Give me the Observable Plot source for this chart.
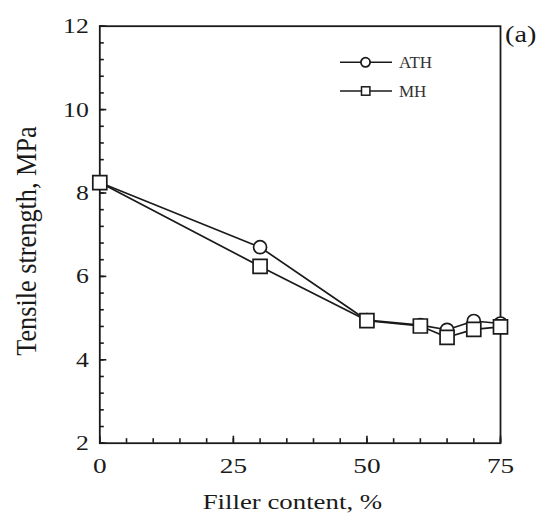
<!DOCTYPE html>
<html>
<head>
<meta charset="utf-8">
<script src="https://cdn.jsdelivr.net/npm/d3@7"></script>
<script src="https://cdn.jsdelivr.net/npm/@observablehq/plot@0.6"></script>
<style>
  html, body { margin: 0; padding: 0; background: #fff; }
  #chart { width: 538px; height: 513px; }
</style>
</head>
<body>
<div id="chart"></div>
<script>
// Filler content (%) and tensile strength (MPa) for the two fillers
const fillerContent = [0, 30, 50, 60, 65, 70, 75];
const athStrength = [8.25, 6.70, 4.95, 4.83, 4.72, 4.93, 4.87];
const mhStrength  = [8.25, 6.24, 4.94, 4.81, 4.54, 4.73, 4.79];

const seriesNames = ["ATH", "MH"];
const xMajorTicks = [0, 25, 50, 75];
const xMinorTicks = d3.range(0, 76, 5);
const yMajorTicks = [2, 4, 6, 8, 10, 12];
const yMinorTicks = d3.range(0, 26).map(i => +(2 + i * 0.4).toFixed(1));

const xTitle = "Filler content, %";
const yTitle = "Tensile strength, MPa";
const panelTag = "(a)";

const ath = fillerContent.map((x, i) => ({x, y: athStrength[i]}));
const mh = fillerContent.map((x, i) => ({x, y: mhStrength[i]}));

const font = "Liberation Serif, Times New Roman, serif";
const ink = "#1a1a1a";

const plot = Plot.plot({
  width: 538,
  height: 513,
  marginLeft: 99.3,
  marginRight: 38,
  marginTop: 25.7,
  marginBottom: 70.3,
  style: {fontFamily: font, background: "#fff", color: ink},
  x: {domain: [0, 75]},
  y: {domain: [2, 12]},
  marks: [
    Plot.frame({stroke: ink, strokeWidth: 1.8}),
    // inward-pointing tick marks
    Plot.axisX({ticks: xMinorTicks, tickSize: -4.5, tickFormat: () => "", label: null, stroke: ink, strokeWidth: 1.6}),
    Plot.axisX({ticks: xMajorTicks, tickSize: -7, tickFormat: () => "", label: null, stroke: ink, strokeWidth: 1.6}),
    Plot.axisY({ticks: yMinorTicks, tickSize: -4.5, tickFormat: () => "", label: null, stroke: ink, strokeWidth: 1.6}),
    Plot.axisY({ticks: yMajorTicks, tickSize: -7, tickFormat: () => "", label: null, stroke: ink, strokeWidth: 1.6}),
    // tick labels
    Plot.axisX({ticks: xMajorTicks, tickSize: 0, tickPadding: 14, fontSize: 22, label: null, fill: ink}),
    Plot.axisY({ticks: yMajorTicks, tickSize: 0, tickPadding: 11, fontSize: 22, label: null, fill: ink}),
    // series
    Plot.line(ath, {x: "x", y: "y", stroke: ink, strokeWidth: 1.7}),
    Plot.line(mh, {x: "x", y: "y", stroke: ink, strokeWidth: 1.7}),
    Plot.dot(ath, {x: "x", y: "y", r: 6.5, symbol: "circle", fill: "white", stroke: ink, strokeWidth: 1.7}),
    Plot.dot(mh, {x: "x", y: "y", r: 7.9, symbol: "square", fill: "white", stroke: ink, strokeWidth: 1.7})
  ]
});

document.getElementById("chart").append(plot);

const svg = d3.select(plot);

// widen a text element horizontally by factor k about its anchor point
function widen(node, k) {
  const t = node.getAttribute("transform") || "";
  node.setAttribute("transform", `${t} scale(${k},1)`.trim());
}
svg.selectAll('g[aria-label="x-axis tick label"] text').each(function() { widen(this, 1.24); });
svg.selectAll('g[aria-label="y-axis tick label"] text').each(function() { widen(this, 1.17); });

// axis titles and panel tag
svg.append("text")
  .attr("transform", "translate(292.4,509.3) scale(1.22,1)")
  .attr("text-anchor", "middle")
  .attr("font-family", font).attr("font-size", 22).attr("fill", ink)
  .text(xTitle);

svg.append("text")
  .attr("transform", "translate(36,241) rotate(-90) scale(1,1.1)")
  .attr("text-anchor", "middle")
  .attr("font-family", font).attr("font-size", 26.3).attr("fill", ink)
  .text(yTitle);

svg.append("text")
  .attr("transform", "translate(505,41.5) scale(1.2,1)")
  .attr("text-anchor", "start")
  .attr("font-family", font).attr("font-size", 23.5).attr("fill", ink)
  .text(panelTag);

// legend in the upper part of the plot area
const legend = svg.append("g")
  .attr("font-family", font).attr("font-size", 17).attr("fill", "#333")
  .attr("text-anchor", "start");
seriesNames.forEach((name, i) => {
  const y = 62.3 + i * 28.7;
  const g = legend.append("g").attr("transform", `translate(340,${y})`);
  g.append("line").attr("x1", 0).attr("x2", 52).attr("stroke", ink).attr("stroke-width", 1.6);
  if (i === 0) {
    g.append("circle").attr("cx", 25.5).attr("r", 4.6).attr("fill", "white").attr("stroke", ink).attr("stroke-width", 1.8);
  } else {
    g.append("rect").attr("x", 21.5).attr("y", -4.2).attr("width", 8.4).attr("height", 8.4).attr("fill", "white").attr("stroke", ink).attr("stroke-width", 1.5);
  }
  g.append("text").attr("x", 59).attr("dy", "0.35em").text(name);
});
</script>
</body>
</html>
